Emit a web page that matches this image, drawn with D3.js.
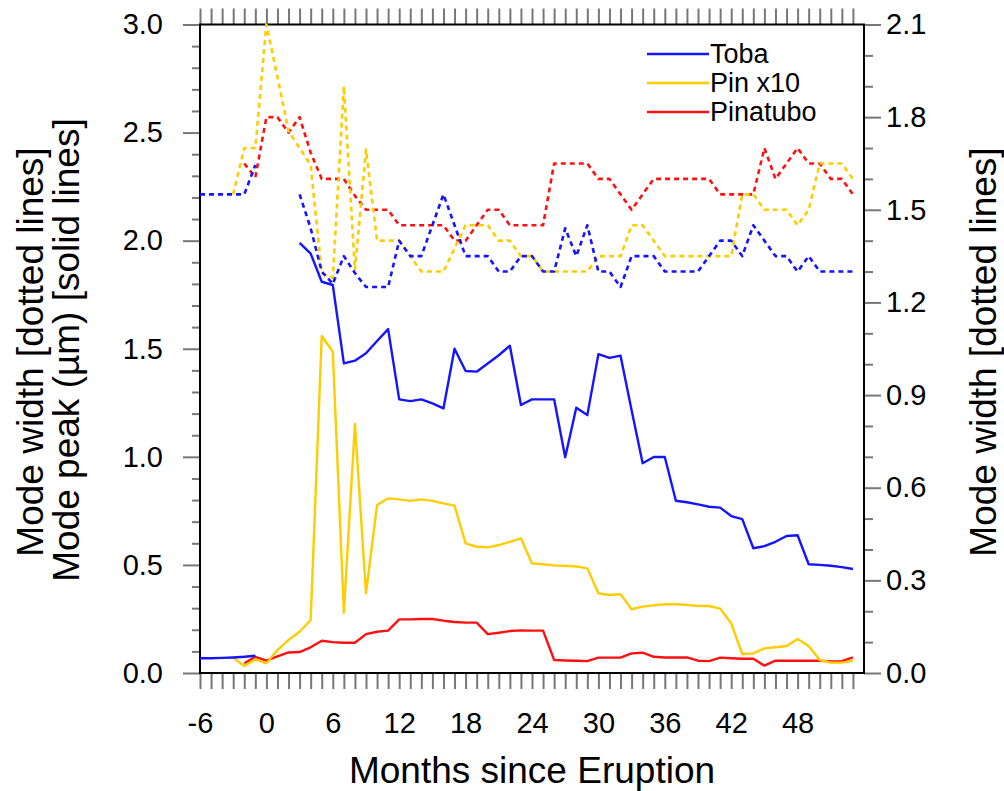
<!DOCTYPE html>
<html>
<head>
<meta charset="utf-8">
<script src="https://cdn.jsdelivr.net/npm/d3@7"></script>
<style>
  body { margin: 0; background: #fff; }
  text { font-family: "Liberation Sans", Arial, Helvetica, sans-serif; fill: #000; }
</style>
</head>
<body>
<script>
// months since eruption, -6 .. 53
const months = d3.range(-6, 54);

// mode peak (um), solid lines, left axis
const tobaPeak = [
  0.068, 0.068, 0.07, 0.072, 0.075, 0.08, null, null, null,
  1.99, 1.94, 1.81, 1.795, 1.432, 1.445, 1.479, 1.536, 1.591, 1.266, 1.258,
  1.266, 1.247, 1.224, 1.5, 1.397, 1.394, 1.432, 1.47, 1.514, 1.24,
  1.266, 1.266, 1.266, 0.998, 1.227, 1.193, 1.475, 1.458, 1.468, 1.216,
  0.97, 0.999, 0.999, 0.797, 0.79, 0.78, 0.769, 0.765, 0.726, 0.712,
  0.577, 0.587, 0.607, 0.634, 0.637, 0.503, 0.5, 0.496, 0.49, 0.481
];
const pinX10Peak = [
  null, null, null, 0.072, 0.032, 0.063, 0.045, 0.106, 0.153,
  0.191, 0.245, 1.559, 1.486, 0.279, 1.152, 0.369, 0.777, 0.808, 0.803, 0.796,
  0.803, 0.796, 0.785, 0.774, 0.6, 0.584, 0.581, 0.592, 0.607, 0.623,
  0.507, 0.503, 0.498, 0.496, 0.493, 0.484, 0.369, 0.361, 0.365, 0.295,
  0.307, 0.313, 0.318, 0.318, 0.315, 0.31, 0.31, 0.298, 0.23, 0.088,
  0.091, 0.114, 0.119, 0.125, 0.157, 0.125, 0.06, 0.048, 0.048, 0.057
];
const pinatuboPeak = [
  null, null, null, null, 0.045, 0.075, 0.057, 0.077, 0.095,
  0.097, 0.119, 0.149, 0.143, 0.14, 0.14, 0.18, 0.191, 0.196, 0.248, 0.248,
  0.25, 0.25, 0.242, 0.236, 0.233, 0.233, 0.18, 0.186, 0.194, 0.197,
  0.196, 0.196, 0.06, 0.058, 0.057, 0.055, 0.071, 0.071, 0.071, 0.091,
  0.094, 0.075, 0.072, 0.072, 0.072, 0.057, 0.055, 0.071, 0.068, 0.066,
  0.066, 0.034, 0.057, 0.057, 0.057, 0.057, 0.057, 0.054, 0.055, 0.072
];

// mode width, dotted lines, right axis
const tobaWidth = [
  1.55, 1.55, 1.55, 1.55, 1.55, 1.645, null, null, null,
  1.55, 1.44, 1.3, 1.26, 1.35, 1.295, 1.25, 1.25, 1.25, 1.4, 1.35,
  1.35, 1.45, 1.55, 1.45, 1.35, 1.35, 1.35, 1.3, 1.3, 1.35,
  1.35, 1.3, 1.3, 1.44, 1.35, 1.45, 1.3, 1.3, 1.25, 1.35,
  1.35, 1.35, 1.3, 1.3, 1.3, 1.3, 1.35, 1.4, 1.4, 1.35,
  1.45, 1.4, 1.35, 1.35, 1.3, 1.35, 1.3, 1.3, 1.3, 1.3
];
const pinX10Width = [
  null, null, null, 1.55, 1.7, 1.7, 2.1, 1.93, 1.755,
  1.7, 1.645, 1.295, 1.28, 1.9, 1.305, 1.695, 1.4, 1.4, 1.4, 1.35,
  1.3, 1.3, 1.3, 1.375, 1.45, 1.45, 1.45, 1.4, 1.4, 1.35,
  1.35, 1.3, 1.3, 1.3, 1.3, 1.3, 1.35, 1.35, 1.35, 1.45,
  1.45, 1.4, 1.35, 1.35, 1.35, 1.35, 1.35, 1.35, 1.35, 1.55,
  1.55, 1.5, 1.5, 1.5, 1.45, 1.5, 1.65, 1.65, 1.65, 1.6
];
const pinatuboWidth = [
  null, null, null, null, 1.65, 1.605, 1.8, 1.8, 1.75,
  1.8, 1.685, 1.6, 1.6, 1.6, 1.545, 1.5, 1.5, 1.5, 1.45, 1.45,
  1.45, 1.45, 1.45, 1.4, 1.4, 1.45, 1.5, 1.5, 1.45, 1.45,
  1.45, 1.45, 1.65, 1.65, 1.65, 1.65, 1.6, 1.6, 1.55, 1.5,
  1.55, 1.6, 1.6, 1.6, 1.6, 1.6, 1.6, 1.55, 1.55, 1.55,
  1.55, 1.7, 1.6, 1.65, 1.7, 1.65, 1.65, 1.6, 1.6, 1.55
];

const seriesNames = ["Toba", "Pin x10", "Pinatubo"];
const seriesColors = ["#1414ff", "#ffcc00", "#ff1010"];
const xLabels = [-6, 0, 6, 12, 18, 24, 30, 36, 42, 48];
const leftTicks = [0, 0.5, 1, 1.5, 2, 2.5, 3];
const rightTicks = [0, 0.3, 0.6, 0.9, 1.2, 1.5, 1.8, 2.1];

const width = 1004;
const height = 791;
const plot = { left: 200, right: 864, top: 24.5, bottom: 673 };

const svg = d3
  .select("body")
  .append("svg")
  .attr("width", width)
  .attr("height", height);

const xScale = d3.scaleLinear().domain([-6, 54]).range([plot.left, plot.right]);
const yLeft = d3.scaleLinear().domain([0, 3]).range([plot.bottom, plot.top]);
const yRight = d3.scaleLinear().domain([0, 2.1]).range([plot.bottom, plot.top]);

const tickColor = "#777";
const labelSize = 29;
const titleSize = 37;

// axes: month ticks on bottom and top, no labels on top
const bottomAxis = d3
  .axisBottom(xScale)
  .tickValues(months)
  .tickSize(16)
  .tickFormat((d) => (xLabels.includes(d) ? d : ""));

const topAxis = d3.axisTop(xScale).tickValues(months).tickSize(16).tickFormat("");

const drawAxis = (axis, transform) => {
  const g = svg.append("g").attr("transform", transform).call(axis);
  g.select(".domain").remove();
  g.selectAll(".tick line").attr("stroke", tickColor).attr("stroke-width", 2);
  g.selectAll(".tick text")
    .attr("font-size", labelSize)
    .attr("font-family", "Liberation Sans, Arial, sans-serif")
    .attr("fill", "#000");
  return g;
};

const gBottom = drawAxis(bottomAxis, `translate(0,${plot.bottom})`);
gBottom.selectAll(".tick text").attr("y", 39).attr("dy", "0.71em");
drawAxis(topAxis, `translate(0,${plot.top})`);

const leftMinor = d3.range(0, 31).map((d) => d / 10).filter((d) => Math.round(d * 10) % 5 !== 0);
const rightMinor = d3.range(0, 22).map((d) => d / 10).filter((d) => Math.round(d * 10) % 3 !== 0);

drawAxis(
  d3.axisLeft(yLeft).tickValues(leftMinor).tickSize(8).tickFormat(""),
  `translate(${plot.left},0)`
);
const gLeft = drawAxis(
  d3.axisLeft(yLeft).tickValues(leftTicks).tickSize(17).tickFormat(d3.format(".1f")),
  `translate(${plot.left},0)`
);
gLeft.selectAll(".tick text").attr("x", -37);

drawAxis(
  d3.axisRight(yRight).tickValues(rightMinor).tickSize(9).tickFormat(""),
  `translate(${plot.right},0)`
);
const gRight = drawAxis(
  d3.axisRight(yRight).tickValues(rightTicks).tickSize(17).tickFormat(d3.format(".1f")),
  `translate(${plot.right},0)`
);
gRight.selectAll(".tick text").attr("x", 22);

// frame
svg
  .append("rect")
  .attr("x", plot.left)
  .attr("y", plot.top)
  .attr("width", plot.right - plot.left)
  .attr("height", plot.bottom - plot.top)
  .attr("fill", "none")
  .attr("stroke", "#000")
  .attr("stroke-width", 2);

// lines
const lineFor = (yScale) =>
  d3
    .line()
    .defined((d) => d[1] !== null)
    .x((d) => xScale(d[0]))
    .y((d) => yScale(d[1]));

const drawSeries = (values, yScale, color, dashed) => {
  svg
    .append("path")
    .datum(months.map((m, i) => [m, values[i]]))
    .attr("d", lineFor(yScale))
    .attr("fill", "none")
    .attr("stroke", color)
    .attr("stroke-width", dashed ? 2.6 : 2.4)
    .attr("stroke-linejoin", "round")
    .attr("stroke-dasharray", dashed ? "5,4" : null);
};

drawSeries(pinatuboWidth, yRight, seriesColors[2], true);
drawSeries(pinX10Width, yRight, seriesColors[1], true);
drawSeries(tobaWidth, yRight, seriesColors[0], true);
drawSeries(pinatuboPeak, yLeft, seriesColors[2], false);
drawSeries(pinX10Peak, yLeft, seriesColors[1], false);
drawSeries(tobaPeak, yLeft, seriesColors[0], false);

// legend
const legend = svg.append("g").attr("transform", "translate(647, 54)");
seriesNames.forEach((name, i) => {
  legend
    .append("line")
    .attr("x1", 0)
    .attr("x2", 62)
    .attr("y1", i * 29)
    .attr("y2", i * 29)
    .attr("stroke", seriesColors[i])
    .attr("stroke-width", 2.6);
  legend
    .append("text")
    .attr("x", 63)
    .attr("y", i * 29)
    .attr("dominant-baseline", "central")
    .attr("font-size", 27)
    .text(name);
});

// titles
svg
  .append("text")
  .attr("x", 532)
  .attr("y", 783)
  .attr("text-anchor", "middle")
  .attr("font-size", titleSize)
  .text("Months since Eruption");

svg
  .append("text")
  .attr("transform", "translate(30, 352) rotate(-90)")
  .attr("text-anchor", "middle")
  .attr("dominant-baseline", "central")
  .attr("font-size", titleSize)
  .text("Mode width [dotted lines]");

svg
  .append("text")
  .attr("transform", "translate(66, 350) rotate(-90)")
  .attr("text-anchor", "middle")
  .attr("dominant-baseline", "central")
  .attr("font-size", titleSize)
  .text("Mode peak (\u00b5m) [solid lines]");

svg
  .append("text")
  .attr("transform", "translate(983, 352) rotate(-90)")
  .attr("text-anchor", "middle")
  .attr("dominant-baseline", "central")
  .attr("font-size", titleSize)
  .text("Mode width [dotted lines]");
</script>
</body>
</html>
